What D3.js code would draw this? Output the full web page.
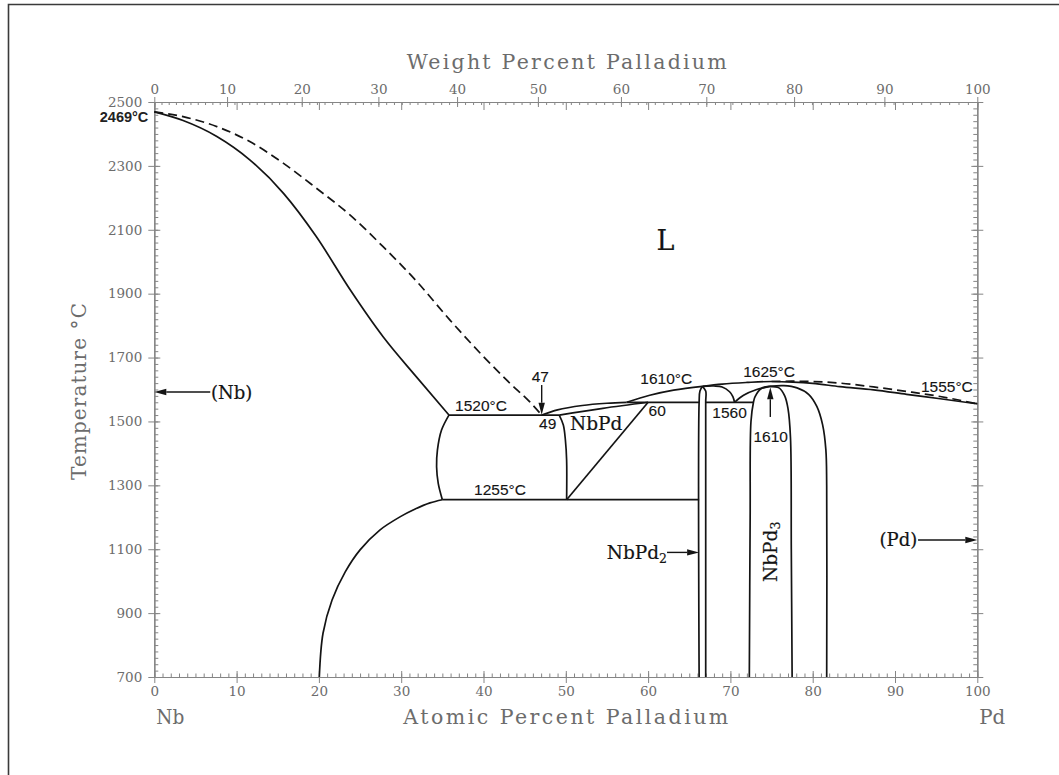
<!DOCTYPE html>
<html>
<head>
<meta charset="utf-8">
<script src="https://cdn.jsdelivr.net/npm/d3@7"></script>
<style>
  html, body { margin: 0; padding: 0; background: #fff; }
  svg { display: block; }
</style>
</head>
<body>
<svg id="chart" width="1059" height="775"></svg>
<script>
// Nb–Pd binary phase diagram (atomic % Pd vs temperature)

// ---- axis ticks ----
const atomicTicks = [0, 10, 20, 30, 40, 50, 60, 70, 80, 90, 100];
const weightTicks = [0, 10, 20, 30, 40, 50, 60, 70, 80, 90, 100];
const tempTicks = [700, 900, 1100, 1300, 1500, 1700, 1900, 2100, 2300, 2500];

// atomic masses used for the weight-percent scale
const massNb = 92.906;
const massPd = 106.42;

// ---- phase boundaries, [at.% Pd, °C] ----
const liquidusNbSide = [[0, 2469], [3.5, 2454], [7.6, 2423], [11.6, 2376], [15.7, 2308], [19.7, 2230],
  [23.8, 2146], [27.8, 2047], [31.9, 1938], [35.9, 1818], [40.0, 1703], [43.2, 1620], [45.6, 1562], [47.07, 1520]];
const solidusNb = [[0, 2469], [3.5, 2442], [7.6, 2392], [11.6, 2319], [15.7, 2214], [19.7, 2078],
  [23.8, 1912], [27.8, 1765], [31.9, 1638], [35.8, 1520]];
const eutectic1520 = [[35.8, 1520], [49.2, 1520]];
const nbBoundaryHigh = [[35.8, 1520], [34.9, 1473], [34.4, 1410], [34.3, 1358], [34.5, 1306], [35.0, 1255]];
const eutectoid1255 = [[35.0, 1255], [66.2, 1255]];
const nbSolvus = [[35.0, 1255], [33.5, 1245], [31.7, 1226], [29.9, 1202], [27.4, 1160], [25.0, 1098],
  [23.2, 1029], [21.6, 941], [20.5, 837], [20.05, 700]];
const nbPdLeft = [[49.2, 1520], [49.7, 1489], [49.95, 1442], [50.1, 1379], [50.1, 1255]];
const nbPdSolidus = [[49.2, 1520], [54.5, 1541], [60, 1560]];
const nbPdRight = [[50.1, 1255], [60, 1560]];
const liquidusEutPer = [[47.07, 1520], [49, 1536], [52, 1550], [55, 1557], [57.4, 1560]];
const peritectic1560 = [[57.4, 1560], [66.2, 1560]];
const liquidusNbPd2 = [[57.4, 1560], [60.2, 1582], [63.1, 1598], [66.6, 1610]];
const nbPd2Left = [[66.6, 1610], [66.3, 1595], [66.2, 1560], [66.2, 700]];
const nbPd2Right = [[66.6, 1610], [67.0, 1595], [67.0, 1560], [67.0, 700]];
const nbPd2Liquidus = [[66.6, 1610], [68.0, 1611], [69.0, 1608], [69.9, 1593], [70.3, 1578], [70.5, 1560]];
const eutectic1560 = [[67.0, 1560], [72.8, 1560]];
const pdLiquidusLow = [[70.5, 1560], [71.6, 1582], [73.2, 1600], [74.8, 1610]];
const nbPd3Left = [[74.8, 1610], [73.8, 1604], [73.0, 1578], [72.8, 1560], [72.5, 1500], [72.4, 1200], [72.3, 700]];
const nbPd3Right = [[74.8, 1610], [75.9, 1605], [76.6, 1580], [77.0, 1540], [77.3, 1450], [77.4, 1100], [77.5, 700]];
const pdSolvus = [[74.8, 1610], [76.5, 1612], [78.1, 1605], [79.5, 1585], [80.5, 1547], [81.2, 1490],
  [81.6, 1411], [81.7, 1300], [81.7, 700]];
const solidusPd = [[66.6, 1610], [69, 1617], [72, 1622], [75, 1625], [77.6, 1623], [80, 1619], [83.3, 1609],
  [87.4, 1599], [91.4, 1585], [95.5, 1571], [100, 1555]];
const liquidusPd = [[75, 1625], [77.6, 1626], [80, 1625], [83.3, 1620], [87.4, 1608], [91.4, 1594], [95.5, 1578], [100, 1555]];

// curves that are single-valued in composition get a monotone-x spline
const curvesInX = [liquidusNbSide, solidusNb, liquidusEutPer, liquidusNbPd2, solidusPd, liquidusPd, nbPdSolidus];
const straightLines = [eutectic1520, eutectoid1255, nbPdRight, peritectic1560, eutectic1560];
const solidLines = [solidusNb, eutectic1520, nbBoundaryHigh, eutectoid1255, nbSolvus, nbPdLeft, nbPdSolidus,
  nbPdRight, liquidusEutPer, peritectic1560, liquidusNbPd2, nbPd2Left, nbPd2Right, nbPd2Liquidus, eutectic1560,
  pdLiquidusLow, nbPd3Left, nbPd3Right, pdSolvus, solidusPd];
const dashedLines = [liquidusNbSide, liquidusPd];

// ---- annotations: text, at.% Pd, °C ----
const tempLabels = [
  { text: "1520°C", at: 39.7, t: 1551 },
  { text: "1255°C", at: 42.0, t: 1288 },
  { text: "47", at: 46.9, t: 1642 },
  { text: "49", at: 47.8, t: 1493 },
  { text: "60", at: 61.1, t: 1536 },
  { text: "1610°C", at: 62.2, t: 1634 },
  { text: "1625°C", at: 74.7, t: 1658 },
  { text: "1555°C", at: 96.3, t: 1611 },
  { text: "1560", at: 69.9, t: 1528 },
  { text: "1610", at: 74.9, t: 1454 }
];
// arrows: [tail, tip] in [at.% Pd, °C]
const arrows = [
  [[47.07, 1614], [47.07, 1521]],
  [[74.85, 1514], [74.85, 1607]],
  [[6.8, 1592], [0, 1592]],
  [[62.3, 1090], [66.2, 1090]],
  [[92.8, 1129], [100, 1129]]
];

const svg = d3.select("#chart");
const x = d3.scaleLinear().domain([0, 100]).range([154.3, 977.3]);
const y = d3.scaleLinear().domain([700, 2500]).range([677, 102]);

const AXIS = "#858585";
const AXTEXT = "#6c6c6c";
const INK = "#141414";
const SERIF = "'DejaVu Serif', 'Liberation Serif', serif";
const SANS = "'Liberation Sans', Arial, sans-serif";

// page frame
svg.append("path").attr("d", "M8.5,775 V4.5 H1059").attr("fill", "none")
  .attr("stroke", "#3a3a3a").attr("stroke-width", 1.6);

// weight % -> atomic %
const wtToAt = w => {
  const a = w / massPd, b = (100 - w) / massNb;
  return 100 * a / (a + b);
};
const wtAll = d3.range(0, 101, 1);
const xw = d3.scaleLinear().domain(wtAll).range(wtAll.map(w => x(wtToAt(w))));

function styleAxis(g) {
  g.select(".domain").attr("stroke", AXIS).attr("stroke-width", 1);
  g.selectAll(".tick line").attr("stroke", AXIS).attr("stroke-width", 1);
  g.selectAll(".tick text").attr("fill", AXTEXT).attr("font-family", SERIF).attr("font-size", 13.5);
}

// bottom axis (atomic %)
svg.append("g").attr("transform", `translate(0,${y(700)})`)
  .call(d3.axisBottom(x).tickValues(d3.range(0, 101, 1)).tickSizeInner(-3.5).tickSizeOuter(0).tickFormat(""))
  .call(styleAxis);
svg.append("g").attr("transform", `translate(0,${y(700)})`)
  .call(d3.axisBottom(x).tickValues(atomicTicks).tickSizeInner(6).tickSizeOuter(0).tickPadding(3).tickFormat(d3.format("d")))
  .call(styleAxis);
svg.append("g").attr("transform", `translate(0,${y(700)})`)
  .call(d3.axisBottom(x).tickValues(atomicTicks).tickSizeInner(-6).tickSizeOuter(0).tickFormat(""))
  .call(styleAxis);

// top axis: atomic % ticks pointing in, weight % ticks with labels
svg.append("g").attr("transform", `translate(0,${y(2500)})`)
  .call(d3.axisTop(x).tickValues(atomicTicks).tickSizeInner(-8).tickSizeOuter(0).tickFormat(""))
  .call(styleAxis);
svg.append("g").attr("transform", `translate(0,${y(2500)})`)
  .call(d3.axisTop(xw).tickValues(wtAll).tickSizeInner(-3).tickSizeOuter(0).tickFormat(""))
  .call(styleAxis);
svg.append("g").attr("transform", `translate(0,${y(2500)})`)
  .call(d3.axisTop(xw).tickValues(weightTicks).tickSizeInner(5).tickSizeOuter(0).tickPadding(3).tickFormat(d3.format("d")))
  .call(styleAxis);
svg.append("g").attr("transform", `translate(0,${y(2500)})`)
  .call(d3.axisTop(xw).tickValues(weightTicks).tickSizeInner(-5).tickSizeOuter(0).tickFormat(""))
  .call(styleAxis);

// left axis
svg.append("g").attr("transform", `translate(${x(0)},0)`)
  .call(d3.axisLeft(y).tickValues(d3.range(700, 2501, 20)).tickSizeInner(-4).tickSizeOuter(0).tickFormat(""))
  .call(styleAxis);
svg.append("g").attr("transform", `translate(${x(0)},0)`)
  .call(d3.axisLeft(y).tickValues(tempTicks).tickSizeInner(6).tickSizeOuter(0).tickPadding(6).tickFormat(d3.format("d")))
  .call(styleAxis);
svg.append("g").attr("transform", `translate(${x(0)},0)`)
  .call(d3.axisLeft(y).tickValues(tempTicks).tickSizeInner(-6).tickSizeOuter(0).tickFormat(""))
  .call(styleAxis);

// right axis
svg.append("g").attr("transform", `translate(${x(100)},0)`)
  .call(d3.axisRight(y).tickValues(d3.range(700, 2501, 20)).tickSizeInner(-4).tickSizeOuter(0).tickFormat(""))
  .call(styleAxis);
svg.append("g").attr("transform", `translate(${x(100)},0)`)
  .call(d3.axisRight(y).tickValues(tempTicks).tickSizeInner(6).tickSizeOuter(0).tickFormat(""))
  .call(styleAxis);
svg.append("g").attr("transform", `translate(${x(100)},0)`)
  .call(d3.axisRight(y).tickValues(tempTicks).tickSizeInner(-6).tickSizeOuter(0).tickFormat(""))
  .call(styleAxis);

// axis titles
const titleG = svg.append("g").attr("font-family", SERIF).attr("fill", AXTEXT);
titleG.append("text").attr("x", 406.7).attr("y", 61.5).attr("dy", "0.36em")
  .attr("font-size", 20.5).attr("textLength", 320).attr("lengthAdjust", "spacing").text("Weight Percent Palladium");
titleG.append("text").attr("x", 403.3).attr("y", 716.5).attr("dy", "0.36em")
  .attr("font-size", 20.5).attr("textLength", 325).attr("lengthAdjust", "spacing").text("Atomic Percent Palladium");
titleG.append("text").attr("x", x(0) + 2).attr("y", 716.5).attr("dy", "0.36em")
  .attr("font-size", 20.5).attr("textLength", 28).attr("lengthAdjust", "spacingAndGlyphs").text("Nb");
titleG.append("text").attr("x", x(100) + 2).attr("y", 716.5).attr("dy", "0.36em")
  .attr("font-size", 20.5).attr("textLength", 26).attr("lengthAdjust", "spacingAndGlyphs").text("Pd");
titleG.append("text").attr("transform", "translate(78.5,480) rotate(-90)").attr("dy", "0.36em")
  .attr("font-size", 20).attr("textLength", 177).attr("lengthAdjust", "spacing").text("Temperature °C");

// boundaries
const inX = d3.line().x(d => x(d[0])).y(d => y(d[1])).curve(d3.curveMonotoneX);
const spline = d3.line().x(d => x(d[0])).y(d => y(d[1])).curve(d3.curveCatmullRom.alpha(0.5));
const straight = d3.line().x(d => x(d[0])).y(d => y(d[1]));
const pathFor = d => straightLines.includes(d) ? straight(d) : curvesInX.includes(d) ? inX(d) : spline(d);
const plotG = svg.append("g").attr("fill", "none").attr("stroke", INK).attr("stroke-width", 1.7)
  .attr("stroke-linejoin", "round");
plotG.selectAll("path.solid").data(solidLines).join("path").attr("class", "solid").attr("d", pathFor);
plotG.selectAll("path.dashed").data(dashedLines).join("path").attr("class", "dashed")
  .attr("stroke-dasharray", "9,5").attr("d", pathFor);

// arrows with filled heads
const arrowG = svg.append("g");
arrows.forEach(([tail, tip]) => {
  const x0 = x(tail[0]), y0 = y(tail[1]), x1 = x(tip[0]), y1 = y(tip[1]);
  const ang = Math.atan2(y1 - y0, x1 - x0);
  const L = 12, hw = 3.2;
  const bx = x1 - L * Math.cos(ang), by = y1 - L * Math.sin(ang);
  arrowG.append("line").attr("x1", x0).attr("y1", y0).attr("x2", bx).attr("y2", by)
    .attr("stroke", INK).attr("stroke-width", 1.4);
  arrowG.append("path")
    .attr("d", `M${x1},${y1} L${bx - hw * Math.sin(ang)},${by + hw * Math.cos(ang)} L${bx + hw * Math.sin(ang)},${by - hw * Math.cos(ang)} Z`)
    .attr("fill", INK);
});

// temperature / composition annotations
svg.append("g").selectAll("text").data(tempLabels).join("text")
  .attr("x", d => x(d.at)).attr("y", d => y(d.t)).attr("dy", "0.36em").attr("text-anchor", "middle")
  .attr("font-family", SANS).attr("font-size", 15.5).attr("fill", INK)
  .attr("stroke", INK).attr("stroke-width", 0.12).text(d => d.text);

// melting point of Nb
svg.append("text").attr("x", x(0) - 6).attr("y", y(2469) + 5).attr("dy", "0.36em").attr("text-anchor", "end")
  .attr("font-family", SANS).attr("font-weight", "bold").attr("font-size", 14.5).attr("fill", "#222")
  .text("2469°C");

// phase labels
const phaseG = svg.append("g").attr("font-family", SERIF).attr("fill", INK).attr("stroke", INK).attr("stroke-width", 0.2);
phaseG.append("text").attr("x", x(62.1)).attr("y", y(2068)).attr("dy", "0.36em").attr("text-anchor", "middle")
  .attr("font-size", 27).text("L");
phaseG.append("text").attr("x", x(53.7)).attr("y", y(1494)).attr("dy", "0.36em").attr("text-anchor", "middle")
  .attr("font-size", 18.5).text("NbPd");
phaseG.append("text").attr("x", x(6.9)).attr("y", y(1592)).attr("dy", "0.36em").attr("text-anchor", "start")
  .attr("font-size", 18).text("(Nb)");
phaseG.append("text").attr("x", x(92.7)).attr("y", y(1129)).attr("dy", "0.36em").attr("text-anchor", "end")
  .attr("font-size", 18).text("(Pd)");
const nbpd2 = phaseG.append("text").attr("x", x(62.3)).attr("y", y(1090)).attr("dy", "0.36em").attr("text-anchor", "end")
  .attr("font-size", 18.5);
nbpd2.append("tspan").text("NbPd");
nbpd2.append("tspan").attr("dy", "0.3em").attr("font-size", 12.5).text("2");
const nbpd3 = phaseG.append("text").attr("transform", `translate(${x(74.8)},${y(1092)}) rotate(-90)`)
  .attr("dy", "0.36em").attr("text-anchor", "middle").attr("font-size", 18.5);
nbpd3.append("tspan").text("NbPd");
nbpd3.append("tspan").attr("dy", "0.3em").attr("font-size", 12.5).text("3");
</script>
</body>
</html>
